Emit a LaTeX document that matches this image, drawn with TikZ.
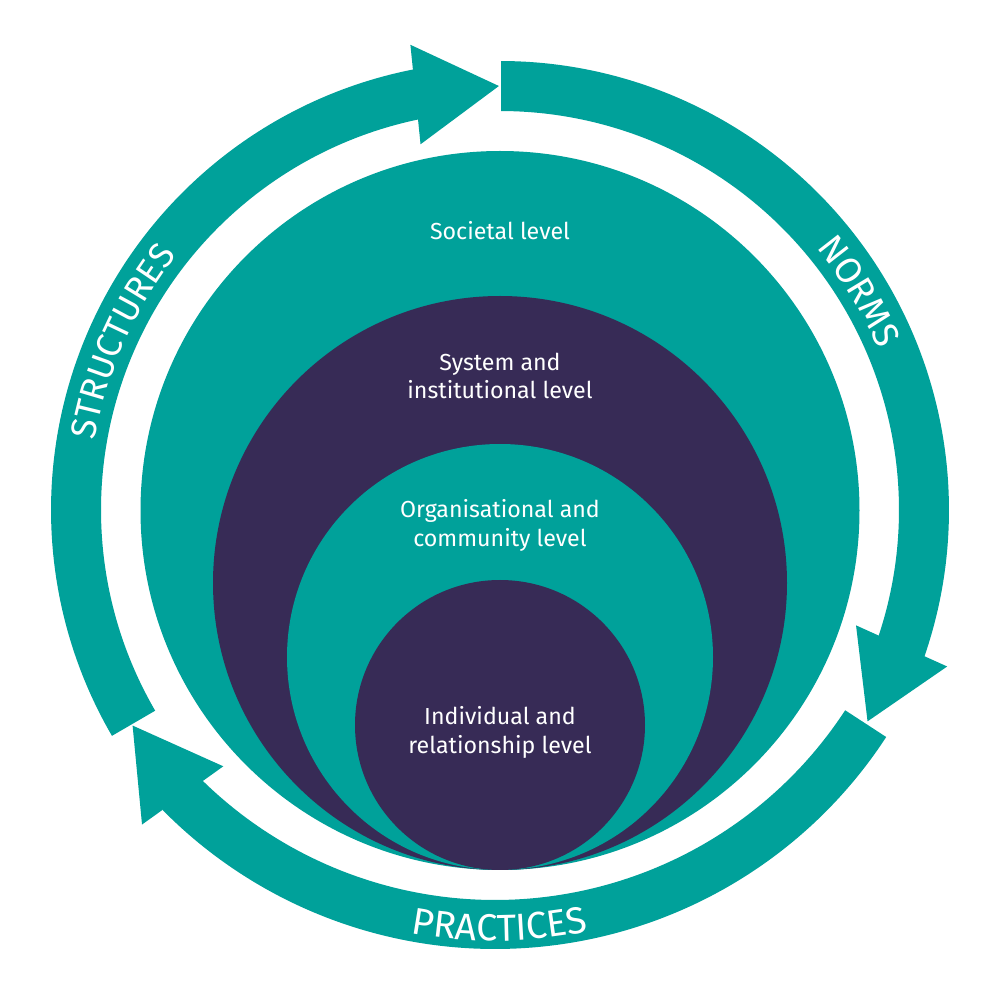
\documentclass[tikz,border=0pt]{standalone}
\usepackage{fontspec}
\setmainfont{Fira Sans}
\newfontfamily\arcfont{Fira Sans}
\usetikzlibrary{calc,decorations.text}
\definecolor{tealc}{RGB}{0,161,154}
\definecolor{purpc}{RGB}{55,43,86}
\begin{document}
\begin{tikzpicture}[x=0.1mm,y=0.1mm,
  ringfill/.style={fill=tealc},
  lvl/.style={text=white, align=center, font=\fontsize{6.6pt}{8.1pt}\selectfont},
  arctext/.style 2 args={decorate, decoration={text along path, text align=center, text color=white, text={|\arcfont\fontsize{#2}{12pt}\selectfont|#1}}}]
\fill[white] (0,0) rectangle (1000,1000);
\useasboundingbox (0,0) rectangle (1000,1000);
\coordinate (C) at (500,490);
\coordinate (P) at (495,518);
% nested circles
\fill[tealc] (500,489.5) circle[radius=359.5];
\fill[purpc] (500,417) circle[radius=287];
\fill[tealc] (500,343) circle[radius=213];
\fill[purpc] (500,275) circle[radius=145];
\node[lvl] (soc) at (500,769) {Societal level};
\node[lvl] (sys) at (500,624) {System and\\institutional level};
\node[lvl] (org) at (500,474.5) {Organisational and\\community level};
\node[lvl] (ind) at (500,267.5) {Individual and\\relationship level};
% STRUCTURES arrow
\fill[ringfill] ($(C)+(210.2:449)$) arc[start angle=210.2, end angle=101.0, radius=449]
  -- ($(C)+(101.0:399)$) arc[start angle=101.0, end angle=210.2, radius=399] -- cycle;
\coordinate (SM) at ($(C)+(101.5:424)$);
\coordinate (ST) at ($(C)+(90.15:424)$);
\fill[ringfill] (ST) -- ($(SM)!5mm!90:(ST)$) -- ($(SM)!5mm!-90:(ST)$) -- cycle;
% NORMS arrow
\fill[ringfill] ($(C)+(89.85:449)$) arc[start angle=89.85, end angle=-19.2, radius=449]
  -- ($(C)+(-19.2:399)$) arc[start angle=-19.2, end angle=89.85, radius=399] -- cycle;
\coordinate (NM) at ($(C)+(-18.7:424)$);
\coordinate (NT) at ($(C)+(-29.9:424)$);
\fill[ringfill] (NT) -- ($(NM)!5mm!90:(NT)$) -- ($(NM)!5mm!-90:(NT)$) -- cycle;
% PRACTICES arrow
\fill[ringfill] ($(P)+(-33.1:467)$) arc[start angle=-33.1, end angle=-135.4, radius=467]
  -- ($(P)+(-135.4:418)$) arc[start angle=-135.4, end angle=-33.1, radius=418] -- cycle;
\coordinate (PM) at ($(P)+(-134.9:442.5)$);
\coordinate (PT) at ($(C)+(210.4:426)$);
\fill[ringfill] (PT) -- ($(PM)!5mm!90:(PT)$) -- ($(PM)!5mm!-90:(PT)$) -- cycle;
% arc labels
\path[arctext={STRUCTURES}{10.1pt}] ($(C)+(196:411)$) arc[start angle=196, end angle=116, radius=411];
\path[arctext={NORMS}{10.3pt}] ($(C)+(71.3:411)$) arc[start angle=71.3, end angle=-8.7, radius=411];
\path[arctext={PRACTICES}{10.7pt}] ($(P)+(-129.4:459)$) arc[start angle=-129.4, end angle=-49.4, radius=459];
\end{tikzpicture}
\end{document}
